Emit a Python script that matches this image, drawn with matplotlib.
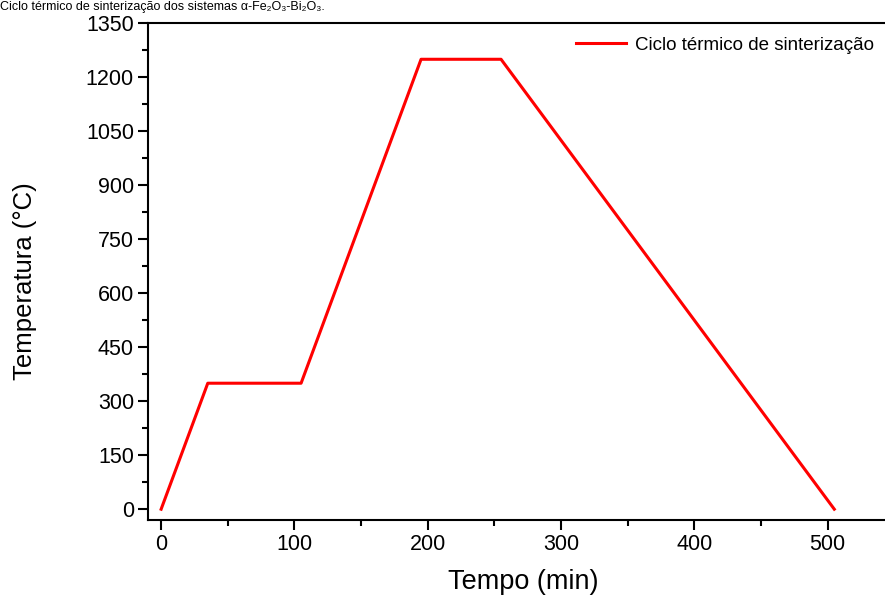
import matplotlib
matplotlib.use("Agg")
import matplotlib.pyplot as plt
from matplotlib.ticker import MultipleLocator

plt.rcParams['font.family'] = ['Liberation Sans', 'DejaVu Sans']

# ciclo termico: tempo (min) x temperatura (C)
tempo = [0, 35, 105, 195, 255, 505]
temperatura = [0, 350, 350, 1250, 1250, 0]

fig = plt.figure(figsize=(8.85, 5.97), dpi=100)
# eixo passa um pouco da borda direita, como no original recortado
ax = fig.add_axes([0.167, 0.129, 0.848, 0.832])

ax.plot(tempo, temperatura, color='#ff0000', lw=2.2,
        label='Ciclo térmico de sinterização')

ax.set_xlim(-10, 553)
ax.set_ylim(-30, 1350)
ax.xaxis.set_major_locator(MultipleLocator(100))
ax.xaxis.set_minor_locator(MultipleLocator(50))
ax.yaxis.set_major_locator(MultipleLocator(150))
ax.yaxis.set_minor_locator(MultipleLocator(75))
ax.tick_params(which='major', direction='out', length=7, width=1.5,
               labelsize=15.5, pad=3)
ax.tick_params(which='minor', direction='out', length=4.3, width=1.5)
for s in ax.spines.values():
    s.set_linewidth(1.5)

ax.set_xlabel('Tempo (min)', fontsize=19.5)
ax.xaxis.set_label_coords(0.5, -0.098)
ax.set_ylabel('Temperatura (°C)', fontsize=18.5)
ax.yaxis.set_label_coords(-0.148, 0.48)

ax.legend(loc='upper right', frameon=False, fontsize=13.5, handlelength=2.7,
          handletextpad=0.45, borderaxespad=0.3,
          bbox_to_anchor=(0.985, 1.0))

# legenda da figura original (cortada no topo do recorte)
fig.text(0.0, 0.999, 'Ciclo térmico de sinterização dos sistemas α-Fe₂O₃-Bi₂O₃.',
         fontsize=9, ha='left', va='top')

fig.savefig('out.png', dpi=100)
